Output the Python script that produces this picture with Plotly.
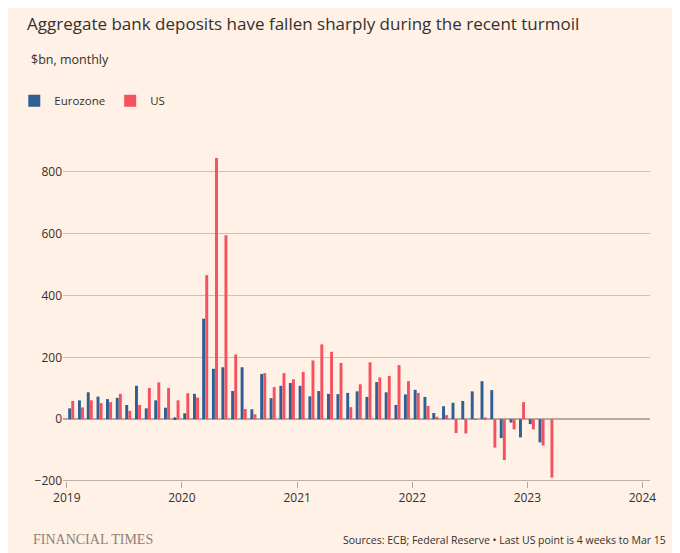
import plotly.graph_objects as go
import pandas as pd

months = pd.date_range("2019-01-01", "2023-03-01", freq="MS")
eurozone = [35,61,87,73,65,69,46,108,35,61,37,6,
            19,82,325,163,168,91,168,32,146,68,108,117,
            108,74,91,82,81,85,90,72,120,87,46,80,
            95,72,20,42,53,59,90,123,94,-61,-11,-59,
            -16,-75,None]
us = [59,38,61,52,55,82,27,46,101,119,101,61,
      84,70,466,845,595,209,33,16,149,104,149,129,
      153,190,242,218,182,39,113,184,135,140,175,123,
      85,43,8,13,-45,-46,-2,6,-92,-132,-33,55,
      -33,-85,-189]
x = [m + pd.Timedelta(days=14) for m in months]

fig = go.Figure()
fig.add_bar(x=x, y=eurozone, name="Eurozone", marker_color="#2f5f93", marker_line_width=0)
fig.add_bar(x=x, y=us, name="US", marker_color="#f5525f", marker_line_width=0)
fig.update_layout(
    width=680, height=553, barmode="group", bargap=0.3, bargroupgap=0.05,
    paper_bgcolor="#fff1e5", plot_bgcolor="#fff1e5",
    margin=dict(l=55, r=38, t=133, b=80, autoexpand=False),
    font=dict(family="Open Sans", color="#33302e", size=12),
    title=dict(text="Aggregate bank deposits have fallen sharply during the recent turmoil",
               x=0.028, xanchor="left", y=0.982, yanchor="top", font=dict(size=17, color="#33302e")),
    legend=dict(orientation="h", x=-0.083, y=1.076, xanchor="left", yanchor="bottom",
                font=dict(size=11.5), itemwidth=30, traceorder="normal"),
    showlegend=True,
)
fig.update_xaxes(range=["2018-12-20", "2024-01-25"], showgrid=False, ticks="outside",
                 tickcolor="#b0a69c", ticklen=6, tickvals=["2019-01-01","2020-01-01","2021-01-01","2022-01-01","2023-01-01","2024-01-01"],
                 ticktext=["2019","2020","2021","2022","2023","2024"], showline=False,
                 tickfont=dict(size=12))
fig.update_yaxes(range=[-200, 900], tickvals=[-200,0,200,400,600,800], gridcolor="#cdbfb3",
                 zeroline=True, zerolinecolor="#b8aca2", ticks="", ticklabelposition="outside",
                 tickfont=dict(size=12), showline=False)
fig.add_shape(type="line", xref="paper", yref="y", x0=0, x1=1, y0=-200, y1=-200,
              line=dict(color="#a59a90", width=1.5))
fig.add_annotation(text="$bn, monthly", xref="paper", yref="paper", x=-0.058, y=1.27,
                   xanchor="left", showarrow=False, font=dict(size=12.5))
fig.add_annotation(text="FINANCIAL TIMES", xref="paper", yref="paper", x=-0.055, y=-0.2,
                   xanchor="left", showarrow=False,
                   font=dict(family="Liberation Serif", size=14, color="#8c8279"))
fig.add_annotation(text="Sources: ECB; Federal Reserve • Last US point is 4 weeks to Mar 15",
                   xref="paper", yref="paper", x=1.03, y=-0.2, xanchor="right", showarrow=False,
                   font=dict(size=10.5, color="#33302e"))
fig.write_html("out.html")
